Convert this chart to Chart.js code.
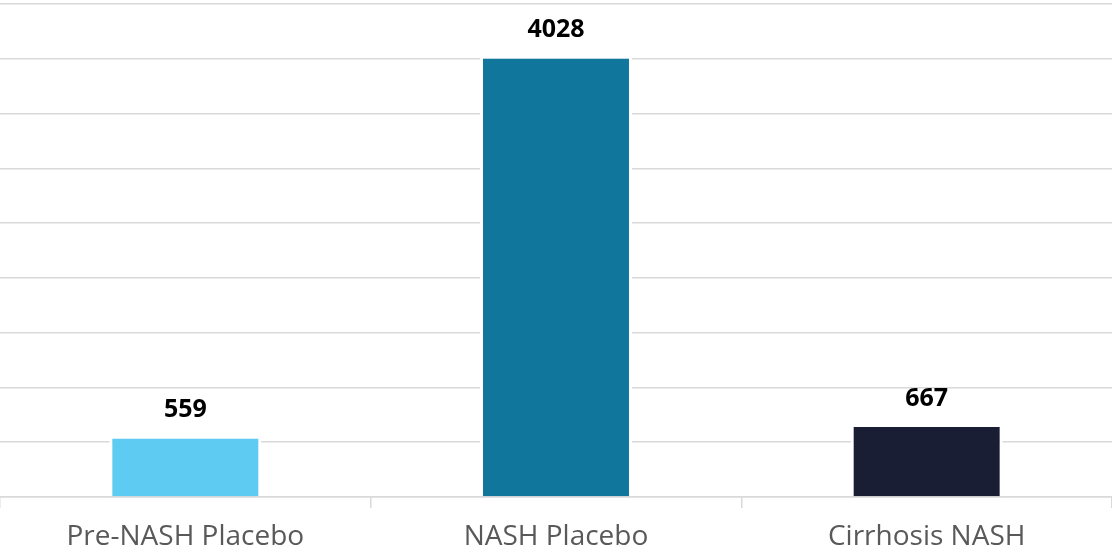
<!DOCTYPE html>
<html>
<head>
<meta charset="utf-8">
<script src="https://cdn.jsdelivr.net/npm/chart.js@4.4.0/dist/chart.umd.min.js"></script>
<style>
  html, body { margin: 0; padding: 0; background: #fff; }
  #wrap { width: 1112px; height: 556px; }
</style>
</head>
<body>
<div id="wrap"><canvas id="bar-chart"></canvas></div>
<script>
const categories = ["Pre-NASH Placebo", "NASH Placebo", "Cirrhosis NASH"];
const values = [559, 4028, 667];
const barColors = ["#5ECBF3", "#10769B", "#1A1E35"];
const yMax = 4500;
const yStep = 500;

// draws the bold numbers above each bar
const valueLabels = {
    id: "valueLabels",
    afterDatasetsDraw(chart) {
        const ctx = chart.ctx;
        const meta = chart.getDatasetMeta(0);
        ctx.save();
        ctx.font = "bold 25px 'Open Sans'";
        ctx.fillStyle = "#000";
        ctx.textAlign = "center";
        ctx.textBaseline = "bottom";
        meta.data.forEach((bar, i) => {
            ctx.fillText(values[i], bar.x, bar.y - 13);
        });
        ctx.restore();
    }
};

new Chart(document.getElementById("bar-chart"), {
    type: "bar",
    data: {
        labels: categories,
        datasets: [{
            data: values,
            backgroundColor: barColors,
            borderColor: "#ffffff",
            borderWidth: 3,
            borderSkipped: "bottom",
            categoryPercentage: 1,
            barPercentage: 0.41
        }]
    },
    options: {
        responsive: true,
        maintainAspectRatio: false,
        animation: false,
        layout: { padding: { top: 4, left: 0, right: 0, bottom: 0 } },
        plugins: {
            legend: { display: false },
            tooltip: { enabled: false }
        },
        scales: {
            x: {
                afterFit: (scale) => { scale.height = 59; },
                grid: {
                    display: true,
                    drawOnChartArea: false,
                    drawTicks: true,
                    tickLength: 11,
                    color: "#d9d9d9",
                    lineWidth: 1.5
                },
                border: { display: true, color: "#d9d9d9", width: 1.5 },
                ticks: {
                    color: "#595959",
                    font: { family: "'Open Sans'", size: 28 },
                    padding: 12
                }
            },
            y: {
                min: 0,
                max: yMax,
                ticks: { display: false, stepSize: yStep },
                grid: {
                    color: "#d9d9d9",
                    lineWidth: 1.5,
                    drawTicks: false
                },
                border: { display: false }
            }
        }
    },
    plugins: [valueLabels]
});
</script>
</body>
</html>
